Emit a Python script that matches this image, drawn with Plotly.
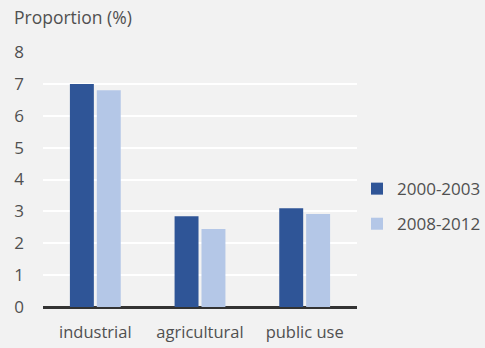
import plotly.graph_objects as go

categories = ["industrial", "agricultural", "public use"]
series_names = ["2000-2003", "2008-2012"]
values_2000_2003 = [7.0, 2.85, 3.1]
values_2008_2012 = [6.8, 2.45, 2.92]
y_ticks = [0, 1, 2, 3, 4, 5, 6, 7, 8]

colors = ["#2f5597", "#b4c7e7"]
font_family = "'Open Sans', sans-serif"
text_color = "#505050"

fig = go.Figure()
for name, vals, col in zip(series_names, [values_2000_2003, values_2008_2012], colors):
    fig.add_trace(go.Bar(x=categories, y=vals, name=name, marker_color=col,
                         marker_line_width=0, legendgroup=name))

fig.update_layout(
    width=485, height=348,
    margin=dict(l=43, r=128, t=52, b=41, autoexpand=False),
    paper_bgcolor="#f2f2f2", plot_bgcolor="#f2f2f2",
    font=dict(family=font_family, size=16, color=text_color),
    barmode="group", bargap=0.486, bargroupgap=0.11,
    showlegend=True,
    legend=dict(x=1.0, y=0.533, xanchor="left", yanchor="top",
                bgcolor="rgba(0,0,0,0)", font=dict(size=17, color=text_color),
                tracegroupgap=10, itemwidth=30),
    xaxis=dict(showgrid=False, ticks="", tickfont=dict(size=16.5, color=text_color),
               showline=False, automargin=False, ticklabelstandoff=13),
    yaxis=dict(range=[0, 8], tickvals=y_ticks, showgrid=True, gridcolor="#ffffff",
               gridwidth=2, zeroline=True, zerolinecolor="#333333", zerolinewidth=2.5,
               ticks="", tickfont=dict(size=17, color=text_color), ticklabelstandoff=18,
               automargin=False, fixedrange=True),
    annotations=[dict(text="Proportion (%)", xref="paper", yref="paper", x=-0.099, y=1.083,
                      xanchor="left", yanchor="bottom", showarrow=False,
                      font=dict(size=17.5, color=text_color))],
)
fig.write_html("out.html")
